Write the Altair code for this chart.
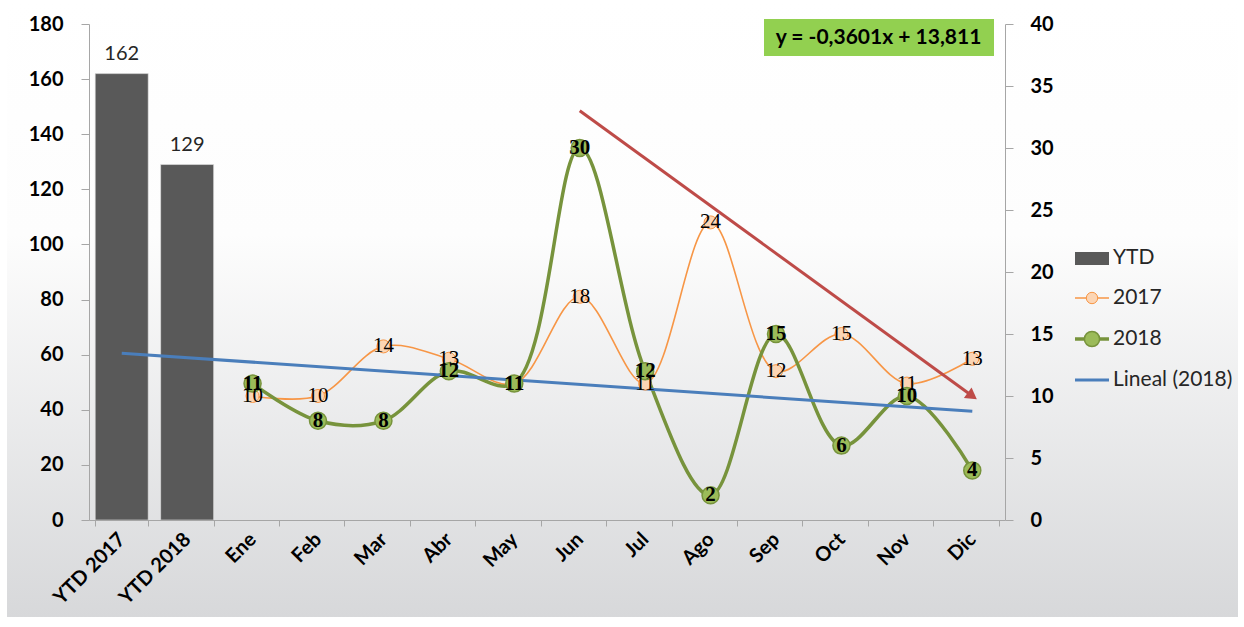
import altair as alt
import pandas as pd

# ---------------- data ----------------
categories = ["YTD 2017", "YTD 2018", "Ene", "Feb", "Mar", "Abr", "May", "Jun",
              "Jul", "Ago", "Sep", "Oct", "Nov", "Dic"]
ytd_names = ["YTD 2017", "YTD 2018"]
ytd_values = [162, 129]
months = ["Ene", "Feb", "Mar", "Abr", "May", "Jun", "Jul", "Ago", "Sep", "Oct", "Nov", "Dic"]
values_2017 = [10, 10, 14, 13, 11, 18, 11, 24, 12, 15, 11, 13]
values_2018 = [11, 8, 8, 12, 11, 30, 12, 2, 15, 6, 10, 4]
trend_cats = ["YTD 2017", "Dic"]
trend_values = [13.451, 8.770]          # Lineal (2018): y = -0,3601x + 13,811 at x=1 and x=14
arrow_cats = ["Jun", "Dic"]
arrow_values = [33, 10]
left_ticks = [0, 20, 40, 60, 80, 100, 120, 140, 160, 180]
right_ticks = [0, 5, 10, 15, 20, 25, 30, 35, 40]
equation = "y = -0,3601x + 13,811"
legend_labels = ["YTD", "2017", "2018", "Lineal (2018)"]

# ---------------- style ----------------
W, H = 916, 496
FONT = "Lato"
SERIF = "Liberation Serif"
GREY_AX = "#a6a6a6"
BAR_C = "#595959"
ORANGE = "#f79646"
ORANGE_FILL = "#fcd5b4"
GREEN = "#77933c"
GREEN_FILL = "#9bbb59"
BLUE = "#4a7ebb"
RED = "#be4b48"
AX_FS = 20

bars_df = pd.DataFrame({"cat": ytd_names, "v": ytd_values})
s17 = pd.DataFrame({"cat": months, "v": values_2017})
s18 = pd.DataFrame({"cat": months, "v": values_2018})
trend_df = pd.DataFrame({"cat": trend_cats, "v": trend_values})
arrow_df = pd.DataFrame({"cat": arrow_cats, "v": arrow_values})
arrow_end = arrow_df.iloc[[1]]
one = pd.DataFrame({"k": [0]})

x_enc = alt.X(
    "cat:N",
    scale=alt.Scale(domain=categories, paddingInner=0.19, paddingOuter=0.095),
    axis=alt.Axis(title=None, labelAngle=-45, labelAlign="right", labelBaseline="middle",
                  labelFontWeight="bold", labelFontSize=AX_FS, labelColor="black", labelFont=FONT,
                  tickBand="extent", domainColor=GREY_AX, tickColor=GREY_AX, tickSize=6,
                  labelPadding=10, labelOverlap=False, zindex=1),
)
y_left = alt.Y(
    "v:Q",
    scale=alt.Scale(domain=[0, 180], nice=False, zero=True),
    axis=alt.Axis(title=None, orient="left", values=left_ticks, grid=False, zindex=1,
                  domainColor=GREY_AX, tickColor=GREY_AX, tickSize=8, labelPadding=18,
                  labelFont=FONT, labelFontSize=AX_FS, labelFontWeight="bold", labelColor="black"),
)
y_right = alt.Y(
    "v:Q",
    scale=alt.Scale(domain=[0, 40], nice=False, zero=True),
    axis=alt.Axis(title=None, orient="right", values=right_ticks, grid=False, zindex=1,
                  domainColor=GREY_AX, tickColor=GREY_AX, tickSize=8, labelPadding=17,
                  labelFont=FONT, labelFontSize=AX_FS, labelFontWeight="bold", labelColor="black"),
)

# background gradient
bg = alt.Chart(one).mark_rect(
    fill=alt.Gradient(gradient="linear", x1=0, y1=0, x2=0, y2=1,
                      stops=[alt.GradientStop(offset=0, color="#ffffff"),
                             alt.GradientStop(offset=0.38, color="#fdfdfd"),
                             alt.GradientStop(offset=1, color="#d7d8da")]),
).encode(x=alt.value(-82), x2=alt.value(1149), y=alt.value(-24), y2=alt.value(593))

bars = alt.Chart(bars_df).mark_bar(color=BAR_C, stroke="#e6e6e6", strokeWidth=0.6).encode(x=x_enc, y=y_left)
bar_labels = alt.Chart(bars_df).mark_text(dy=-14, baseline="alphabetic", fontSize=20, font=FONT,
                                          color="#262626").encode(x=x_enc, y=y_left, text="v:Q")
left = alt.layer(bg, bars, bar_labels)

line17 = alt.Chart(s17).mark_line(interpolate="catmull-rom", color=ORANGE, strokeWidth=1.6).encode(x=x_enc, y=y_right)
line18 = alt.Chart(s18).mark_line(interpolate="catmull-rom", color=GREEN, strokeWidth=3.5).encode(x=x_enc, y=y_right)
pts17 = alt.Chart(s17).mark_point(shape="circle", filled=True, fill=ORANGE_FILL, stroke=ORANGE,
                                  strokeWidth=1, size=170, opacity=1).encode(x=x_enc, y=y_right)
pts18 = alt.Chart(s18).mark_point(shape="circle", filled=True, fill=GREEN_FILL, stroke=GREEN,
                                  strokeWidth=1.5, size=290, opacity=1).encode(x=x_enc, y=y_right)
trend = alt.Chart(trend_df).mark_line(color=BLUE, strokeWidth=3).encode(x=x_enc, y=y_right)
lab17 = alt.Chart(s17).mark_text(font=SERIF, fontSize=21, color="black", baseline="middle").encode(
    x=x_enc, y=y_right, text="v:Q")
lab18 = alt.Chart(s18).mark_text(font=SERIF, fontSize=21, fontWeight="bold", color="black",
                                 baseline="middle").encode(x=x_enc, y=y_right, text="v:Q")
arrow = alt.Chart(arrow_df).mark_line(color=RED, strokeWidth=3).encode(x=x_enc, y=y_right)
arrow_head = alt.Chart(arrow_end).mark_point(shape="triangle-right", filled=True, color=RED, size=170,
                                             angle=36, opacity=1).encode(x=x_enc, y=y_right)

# equation box
eq_box = alt.Chart(one).mark_rect(fill="#92d050").encode(
    x=alt.value(675), x2=alt.value(905), y=alt.value(-5), y2=alt.value(32))
eq_text = alt.Chart(one).mark_text(text=equation, font=FONT, fontSize=21, fontWeight="bold",
                                   color="black", align="center", baseline="middle").encode(
    x=alt.value(789.5), y=alt.value(14))

# legend
LX0, LX1, LXT = 986, 1020, 1024
leg_y = [234, 274, 315, 356]
leg = [
    alt.Chart(one).mark_rect(color=BAR_C).encode(x=alt.value(LX0), x2=alt.value(LX1),
                                                 y=alt.value(leg_y[0] - 6), y2=alt.value(leg_y[0] + 7)),
    alt.Chart(one).mark_rule(color=ORANGE, strokeWidth=1.6).encode(x=alt.value(LX0), x2=alt.value(LX1),
                                                                   y=alt.value(leg_y[1])),
    alt.Chart(one).mark_point(shape="circle", filled=True, fill=ORANGE_FILL, stroke=ORANGE, strokeWidth=1,
                              size=130, opacity=1).encode(x=alt.value((LX0 + LX1) / 2), y=alt.value(leg_y[1])),
    alt.Chart(one).mark_rule(color=GREEN, strokeWidth=3.5).encode(x=alt.value(LX0), x2=alt.value(LX1),
                                                                  y=alt.value(leg_y[2])),
    alt.Chart(one).mark_point(shape="circle", filled=True, fill=GREEN_FILL, stroke=GREEN, strokeWidth=1.5,
                              size=230, opacity=1).encode(x=alt.value((LX0 + LX1) / 2), y=alt.value(leg_y[2])),
    alt.Chart(one).mark_rule(color=BLUE, strokeWidth=3).encode(x=alt.value(LX0), x2=alt.value(LX1),
                                                               y=alt.value(leg_y[3])),
]
for lbl, yy in zip(legend_labels, leg_y):
    leg.append(alt.Chart(one).mark_text(text=lbl, font=FONT, fontSize=21, color="#262626",
                                        align="left", baseline="middle").encode(
        x=alt.value(LXT), y=alt.value(yy)))

right = alt.layer(line17, line18, trend, pts17, pts18, lab17, lab18, arrow, arrow_head,
                  eq_box, eq_text, *leg)

chart = alt.layer(left, right).resolve_scale(y="independent").properties(
    width=W, height=H, autosize="none",
    padding={"left": 89, "top": 24, "right": 239, "bottom": 107},
    background="white",
).configure_view(stroke=None)

chart.save("out.html", embed_options={"renderer": "svg", "actions": False})
